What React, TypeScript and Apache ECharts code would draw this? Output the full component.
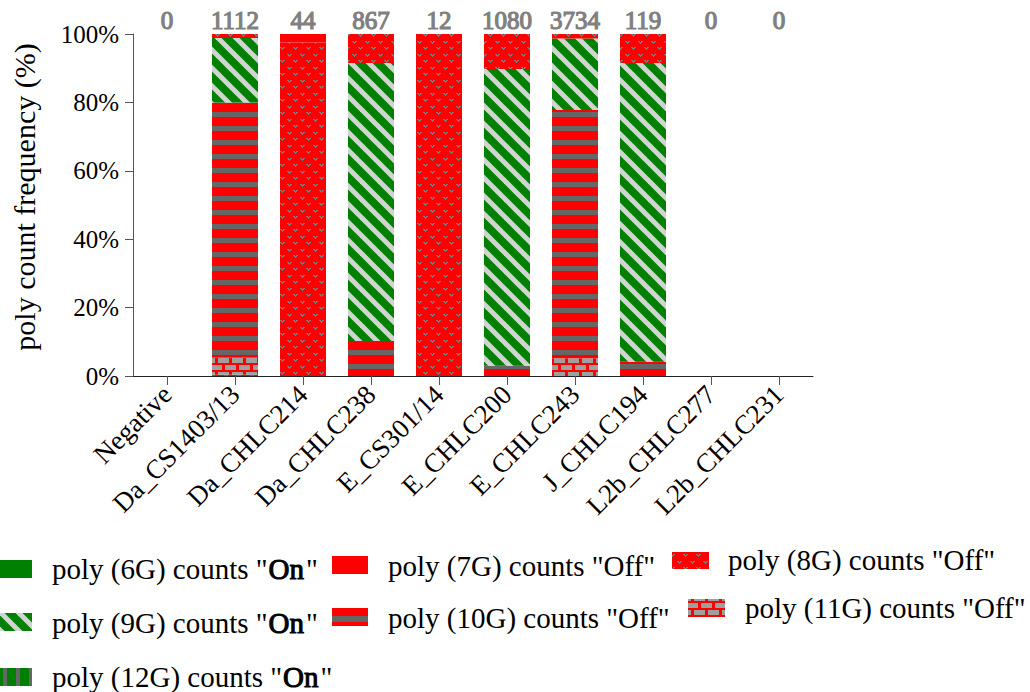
import React, { useEffect, useRef } from 'react';
import * as echarts from 'echarts';

const categories = [
  'Negative', 'Da_CS1403/13', 'Da_CHLC214', 'Da_CHLC238', 'E_CS301/14',
  'E_CHLC200', 'E_CHLC243', 'J_CHLC194', 'L2b_CHLC277', 'L2b_CHLC231',
];
const sampleCounts = ['0', '1112', '44', '867', '12', '1080', '3734', '119', '0', '0'];
const yTicks = [0, 20, 40, 60, 80, 100];

// percentages per category (stacked from bottom: 12G, 11G, 10G, 9G, 8G, 7G, 6G)
const g12On = [0, 0.4, 0, 0, 0, 0, 0, 0, 0, 0];
const g11Off = [0, 5.0, 0, 0, 0, 0, 5.2, 0, 0, 0];
const g10Off = [0, 74.6, 0, 10.2, 0, 3.0, 72.6, 4.2, 0, 0];
const g9On = [0, 18.8, 0, 81.3, 0, 86.8, 20.9, 87.3, 0, 0];
const g8Off = [0, 1.2, 97.5, 8.5, 100, 10.2, 1.3, 8.5, 0, 0];
const g7Off = [0, 0, 2.5, 0, 0, 0, 0, 0, 0, 0];
const g6On = [0, 0, 0, 0, 0, 0, 0, 0, 0, 0];

const GREEN = '#008000';
const RED = '#FF0000';
const LGRAY = '#D3D3D3';
const DGRAY = '#666666';
const MGRAY = '#808080';
const BRICK = '#A0A0A0';
const FAMILY = '"Liberation Serif", "Times New Roman", serif';
const LEG_FS = 29;

function tile(w: number, h: number, draw: (ctx: CanvasRenderingContext2D) => void) {
  const c = document.createElement('canvas');
  c.width = w;
  c.height = h;
  const ctx = c.getContext('2d') as CanvasRenderingContext2D;
  draw(ctx);
  return { image: c, repeat: 'repeat', imageWidth: w, imageHeight: h } as any;
}

function makePatterns() {
  const p9 = tile(18, 18, (ctx) => {
    ctx.fillStyle = GREEN;
    ctx.fillRect(0, 0, 18, 18);
    ctx.strokeStyle = LGRAY;
    ctx.lineWidth = 5;
    for (const k of [-18, 0, 18]) {
      ctx.beginPath();
      ctx.moveTo(k - 2, -2);
      ctx.lineTo(k + 20, 20);
      ctx.stroke();
    }
  });
  const p10 = tile(4, 14, (ctx) => {
    ctx.fillStyle = RED;
    ctx.fillRect(0, 0, 4, 14);
    ctx.fillStyle = DGRAY;
    ctx.fillRect(0, 0, 4, 5);
  });
  const p11 = tile(14, 14, (ctx) => {
    ctx.fillStyle = RED;
    ctx.fillRect(0, 0, 14, 14);
    ctx.fillStyle = BRICK;
    ctx.fillRect(1, 1, 11, 5);
    ctx.fillRect(8, 8, 6, 5);
    ctx.fillRect(0, 8, 5, 5);
  });
  const p12 = tile(13, 2, (ctx) => {
    ctx.fillStyle = GREEN;
    ctx.fillRect(0, 0, 13, 2);
    ctx.fillStyle = DGRAY;
    ctx.fillRect(3, 0, 4, 2);
  });
  const p8 = tile(13, 13, (ctx) => {
    ctx.fillStyle = RED;
    ctx.fillRect(0, 0, 13, 13);
    ctx.fillStyle = '#7a7a7a';
    const v = (x: number, y: number) => {
      ctx.fillRect(x, y, 2, 1);
      ctx.fillRect(x + 3, y, 2, 1);
      ctx.fillRect(x + 1, y + 1, 3, 1);
      ctx.fillRect(x + 2, y + 2, 1, 1);
    };
    v(1, 2);
    v(7, 8);
  });
  return { p8, p9, p10, p11, p12 };
}

function measure(text: string, font: string) {
  const c = document.createElement('canvas');
  const ctx = c.getContext('2d') as CanvasRenderingContext2D;
  ctx.font = font;
  return ctx.measureText(text).width;
}

export default function App() {
  const ref = useRef<HTMLDivElement>(null);

  useEffect(() => {
    if (!ref.current) return;
    const chart = echarts.init(ref.current, undefined, { renderer: 'svg' });
    const P = makePatterns();

    const mk = (name: string, data: number[], color: any) => ({
      name,
      type: 'bar',
      stack: 'all',
      barWidth: 46,
      data,
      itemStyle: { color },
      emphasis: { disabled: true },
    });

    const LEG_FONT = `${LEG_FS}px "Liberation Serif", serif`;

    const txt = (x: number, y: number, text: string, bold: boolean) => ({
      type: 'text',
      x,
      y,
      style: {
        text,
        font: LEG_FONT,
        fill: '#000',
        stroke: bold ? '#000' : undefined,
        lineWidth: bold ? 1.0 : 0,
        verticalAlign: 'middle',
        align: 'left',
      },
    });

    const legendText = (x: number, y: number, g: string, word: string, bold: boolean) => {
      if (!bold) return [txt(x, y, `poly (${g}) counts "${word}"`, false)];
      const pre = `poly (${g}) counts "`;
      const w1 = measure(pre, LEG_FONT);
      const w2 = measure(word, LEG_FONT);
      return [
        txt(x, y, pre, false),
        txt(x + w1 + 1, y, word, true),
        txt(x + w1 + w2 + 3, y, '"', false),
      ];
    };

    chart.setOption({
      animation: false,
      grid: { left: 133, top: 34, width: 680, height: 342, containLabel: false },
      xAxis: [
        {
          type: 'category',
          data: categories,
          position: 'bottom',
          axisLine: { show: true, lineStyle: { color: '#222', width: 1 } },
          axisTick: { show: true, alignWithLabel: true, length: 9, lineStyle: { color: '#555' } },
          axisLabel: {
            rotate: 45,
            interval: 0,
            margin: 14,
            fontSize: 27,
            fontFamily: FAMILY,
            color: '#000',
          },
        },
        {
          type: 'category',
          data: sampleCounts,
          position: 'top',
          axisLine: { show: false },
          axisTick: { show: false },
          axisLabel: {
            interval: 0,
            margin: 1,
            fontSize: 25,
            fontWeight: 'normal',
            fontFamily: FAMILY,
            color: MGRAY,
            textBorderColor: MGRAY,
            textBorderWidth: 1.2,
          },
        },
      ],
      yAxis: {
        type: 'value',
        min: yTicks[0],
        max: yTicks[yTicks.length - 1],
        interval: 20,
        name: 'poly count frequency (%)',
        nameLocation: 'middle',
        nameGap: 94,
        nameTextStyle: { fontSize: 30, fontFamily: FAMILY, color: '#000', padding: [0, 0, 0, 16] },
        axisLine: { show: true, lineStyle: { color: '#555', width: 1 } },
        axisTick: { show: true, length: 8, lineStyle: { color: '#555' } },
        splitLine: { show: false },
        axisLabel: {
          formatter: '{value}%',
          margin: 14,
          fontSize: 25,
          fontFamily: FAMILY,
          color: '#000',
        },
      },
      series: [
        mk('poly (12G) counts "On"', g12On, P.p12),
        mk('poly (11G) counts "Off"', g11Off, P.p11),
        mk('poly (10G) counts "Off"', g10Off, P.p10),
        mk('poly (9G) counts "On"', g9On, P.p9),
        mk('poly (8G) counts "Off"', g8Off, P.p8),
        mk('poly (7G) counts "Off"', g7Off, RED),
        mk('poly (6G) counts "On"', g6On, GREEN),
      ],
      graphic: [
        // column 1
        { type: 'rect', shape: { x: 0, y: 560, width: 32, height: 18 }, style: { fill: GREEN } },
        ...legendText(52, 569, '6G', 'On', true),
        { type: 'rect', shape: { x: 0, y: 613, width: 32, height: 18 }, style: { fill: P.p9 } },
        ...legendText(52, 623, '9G', 'On', true),
        { type: 'rect', shape: { x: 0, y: 668, width: 32, height: 18 }, style: { fill: P.p12 } },
        ...legendText(52, 677, '12G', 'On', true),
        // column 2
        { type: 'rect', shape: { x: 332, y: 556, width: 36, height: 18 }, style: { fill: RED } },
        ...legendText(388, 566, '7G', 'Off', false),
        { type: 'rect', shape: { x: 332, y: 608, width: 36, height: 18 }, style: { fill: RED } },
        { type: 'rect', shape: { x: 332, y: 616, width: 36, height: 6 }, style: { fill: DGRAY } },
        ...legendText(388, 618, '10G', 'Off', false),
        // column 3
        { type: 'rect', shape: { x: 672, y: 552, width: 37, height: 17 }, style: { fill: P.p8 } },
        ...legendText(728, 560, '8G', 'Off', false),
        { type: 'rect', shape: { x: 688, y: 599, width: 37, height: 18 }, style: { fill: P.p11 } },
        ...legendText(745, 608, '11G', 'Off', false),
      ],
    });

    return () => chart.dispose();
  }, []);

  return (
    <div
      ref={ref}
      style={{ position: 'fixed', left: 0, top: 0, width: 1030, height: 692, background: '#fff' }}
    />
  );
}
